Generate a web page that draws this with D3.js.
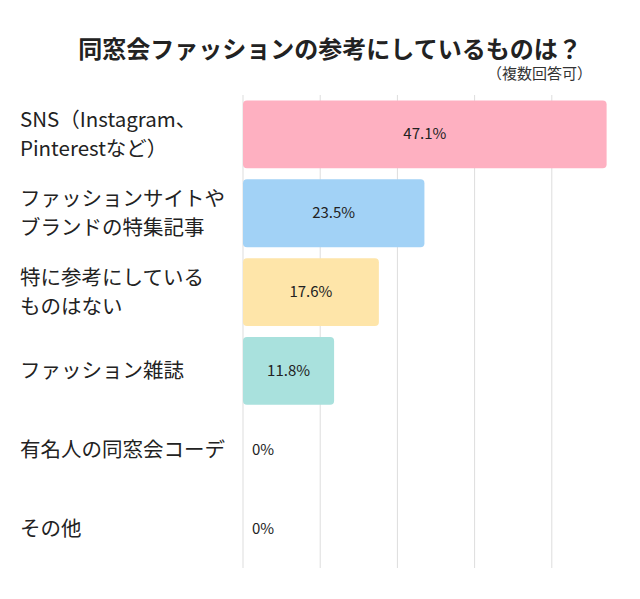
<!DOCTYPE html><html><head><meta charset="utf-8">
<script src="https://cdn.jsdelivr.net/npm/d3@7"></script>
<style>body{margin:0;background:#fff}text{font-family:"Noto Sans CJK JP","Noto Sans",sans-serif}</style></head><body>
<svg id="c" width="640" height="599"></svg>
<script>
const categories=[["SNS（Instagram、","Pinterestなど）"],["ファッションサイトや","ブランドの特集記事"],["特に参考にしている","ものはない"],["ファッション雑誌"],["有名人の同窓会コーデ"],["その他"]];
const values=[47.1,23.5,17.6,11.8,0,0];
const colors=["#feb0c1","#a2d2f6","#fee5a9","#a9e1dd","#ccc","#ccc"];
const ticks=[0,10,20,30,40];
const svg=d3.select("#c");
const x=d3.scaleLinear().domain([0,50]).range([243,629]);
const y=d3.scaleBand().domain(d3.range(6)).range([95,568]).paddingInner(0.14).paddingOuter(0.07);
svg.append("text").attr("x",330).attr("y",58).attr("text-anchor","middle").attr("font-size",24).attr("font-weight","bold").attr("fill","#222").text("同窓会ファッションの参考にしているものは？");
svg.append("text").attr("x",592).attr("y",79).attr("text-anchor","end").attr("font-size",15).attr("fill","#333").text("（複数回答可）");
svg.selectAll(".g").data(ticks).join("line").attr("x1",d=>x(d)).attr("x2",d=>x(d)).attr("y1",95).attr("y2",568).attr("stroke","#ddd").attr("stroke-width",1);
svg.selectAll(".b").data(values).join("rect").attr("x",x(0)).attr("y",(d,i)=>y(i)).attr("width",d=>x(d)-x(0)).attr("height",y.bandwidth()).attr("rx",4).attr("fill",(d,i)=>colors[i]);
svg.selectAll(".v").data(values).join("text").attr("x",d=>d>0?(x(0)+x(d))/2:x(0)+9).attr("y",(d,i)=>y(i)+y.bandwidth()/2+5).attr("text-anchor",d=>d>0?"middle":"start").attr("font-size",15).attr("fill","#222").text(d=>d+"%");
categories.forEach((lines,i)=>{
 const t=svg.append("text").attr("font-size",20.5).attr("fill","#222");
 const cy=y(i)+y.bandwidth()/2;
 lines.forEach((s,j)=>t.append("tspan").attr("x",20).attr("y",cy+7+(j-(lines.length-1)/2)*29).text(s));
});
</script></body></html>
